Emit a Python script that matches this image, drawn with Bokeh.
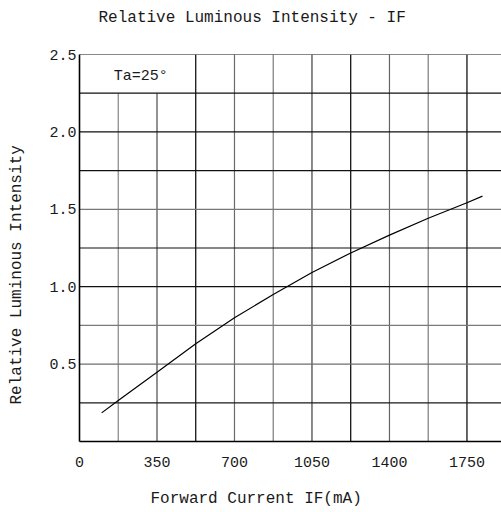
from bokeh.plotting import figure
from bokeh.models import (ColumnDataSource, FixedTicker, Range1d, Label, Title,
                          PrintfTickFormatter)
from bokeh.embed import file_html
from bokeh.resources import INLINE

# ---- data ----
forward_current_ma = [100, 175, 350, 525, 700, 875, 1050, 1225, 1400, 1575, 1750, 1820]
relative_intensity = [0.185, 0.265, 0.448, 0.631, 0.799, 0.950, 1.092, 1.218, 1.333, 1.442, 1.542, 1.585]

x_tick_values = [0, 350, 700, 1050, 1400, 1750]
y_tick_values = [0.5, 1.0, 1.5, 2.0, 2.5]

x_grid_values = [175, 350, 525, 700, 875, 1050, 1225, 1400, 1575, 1750]
y_grid_values = [0.25, 0.5, 0.75, 1.0, 1.25, 1.5, 1.75, 2.0, 2.25, 2.5]

title_text = "Relative Luminous Intensity - IF"
x_title = "Forward Current IF(mA)"
y_title = "Relative Luminous Intensity"
note_text = "Ta=25°"

# ---- styling ----
FONT = "Liberation Mono"
TEXT_COLOR = "#1a1a1a"
X_MAX = 1906
Y_MAX = 2.5
v_colors = ["#858585", "#4a4a4a", "#000000", "#6a6a6a", "#7a7a7a",
            "#3c3c3c", "#000000", "#646464", "#7c7c7c", "#000000"]
h_colors = ["#1a1a1a", "#6e6e6e", "#7a7a7a", "#111111", "#111111",
            "#777777", "#111111", "#111111", "#111111", "#111111"]

p = figure(width=501, height=512, output_backend="svg", toolbar_location=None,
           x_range=Range1d(0, X_MAX), y_range=Range1d(0, Y_MAX))
p.min_border_left = 79
p.min_border_right = 0
p.min_border_top = 54
p.min_border_bottom = 71
p.outline_line_color = None
p.background_fill_color = "white"
p.border_fill_color = "white"
p.xgrid.visible = False
p.ygrid.visible = False

# grid drawn as segments (top-left cell left open for the note)
note_cell_right = 525
note_cell_bottom = 2.25
v_top = [note_cell_bottom if xv < note_cell_right else Y_MAX for xv in x_grid_values]
vsrc = ColumnDataSource(dict(x0=x_grid_values, y0=[0] * len(x_grid_values),
                             x1=x_grid_values, y1=v_top, c=v_colors))
p.segment(x0="x0", y0="y0", x1="x1", y1="y1", source=vsrc, line_color="c", line_width=1.2)
hsrc = ColumnDataSource(dict(x0=[0] * len(y_grid_values), y0=y_grid_values,
                             x1=[X_MAX] * len(y_grid_values), y1=y_grid_values, c=h_colors))
p.segment(x0="x0", y0="y0", x1="x1", y1="y1", source=hsrc, line_color="c", line_width=1.2)

# curve
p.line(forward_current_ma, relative_intensity, line_color="black", line_width=1.2)

# axes
for ax in (p.xaxis, p.yaxis):
    ax.axis_line_color = "black"
    ax.axis_line_width = 1.6
    ax.major_tick_line_color = None
    ax.minor_tick_line_color = None
    ax.major_label_text_font = FONT
    ax.major_label_text_font_size = "15px"
    ax.major_label_text_color = TEXT_COLOR
p.xaxis.ticker = FixedTicker(ticks=x_tick_values)
p.yaxis.ticker = FixedTicker(ticks=y_tick_values)
p.yaxis.formatter = PrintfTickFormatter(format="%.1f")
p.xaxis.major_label_standoff = 9
p.yaxis.major_label_standoff = -3

def make_title(text, offset, pad_top, pad_bottom):
    t = Title(text=text, align="left", offset=offset, standoff=0,
              vertical_align="bottom", text_font=FONT, text_font_size="16px",
              text_font_style="normal", text_color=TEXT_COLOR)
    try:
        t.padding = dict(top=pad_top, right=0, bottom=pad_bottom, left=0)
    except Exception:
        t.standoff = 2 * (pad_top + pad_bottom) // 3
    return t

p.add_layout(make_title(title_text, 19, 0, 28), "above")
p.add_layout(make_title(x_title, 71, 18, 0), "below")
p.add_layout(make_title(y_title, 37, 0, 21), "left")

p.add_layout(Label(x=277, y=2.355, text=note_text, text_font=FONT, text_font_size="15px",
                   text_color=TEXT_COLOR, text_align="center", text_baseline="middle"))

open("out.html", "w").write(file_html(p, INLINE))
